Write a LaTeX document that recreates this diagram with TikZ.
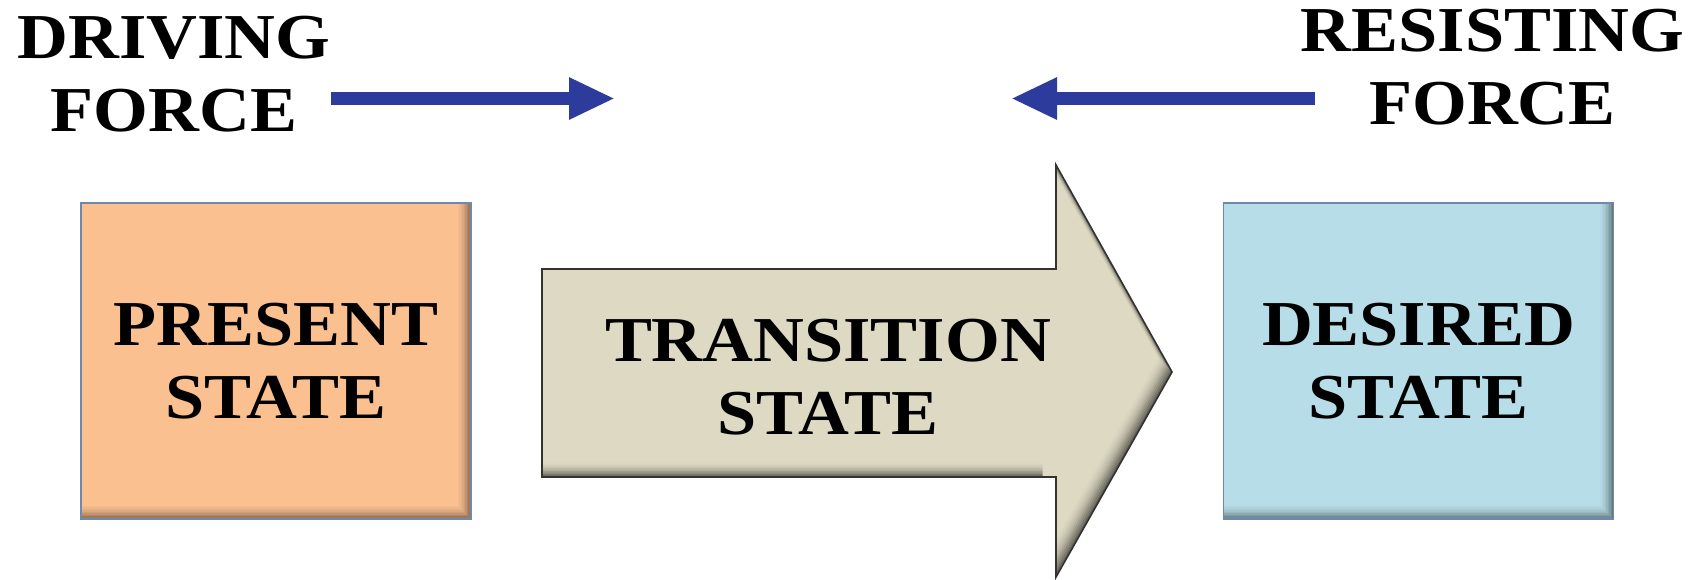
\documentclass[tikz,border=0pt]{standalone}
\usepackage{fontspec}
\setmainfont{Liberation Serif}
\newfontfamily\widefont[FakeStretch=1.1]{Liberation Serif}
\usetikzlibrary{arrows.meta, positioning}

\definecolor{forceblue}{HTML}{2C3B9C}
\definecolor{presentfill}{HTML}{FAC090}
\definecolor{desiredfill}{HTML}{B7DDE8}
\definecolor{transfill}{HTML}{DDD9C3}
\definecolor{boxline}{HTML}{6F89AD}

\begin{document}
\begin{tikzpicture}[x=0.5pt, y=-0.5pt,
    font=\widefont\bfseries\fontsize{32pt}{36.5pt}\selectfont,
    force/.style = {line width=6.5pt, draw=forceblue,
      -{Triangle[length=23pt, width=19.5pt]}},
    forcelabel/.style = {align=center, inner sep=0pt},
    statebox/.style = {draw=boxline, line width=0.8pt, inner sep=0pt,
      minimum width=195pt, minimum height=158pt, align=center,
      path picture={
        \foreach \d/\m in {0/55, 0.75/63, 1.5/70, 2.25/77, 3/83, 3.75/88,
                           4.5/92, 5.25/95, 6/98, 6.75/100}
          \fill[#1!\m!black]
            ([shift={(-\d pt,\d pt)}]path picture bounding box.south west)
            rectangle ([shift={(-\d pt,\d pt)}]path picture bounding box.north east);
      }}]
  \fill[white] (0,0) rectangle (1695,579);

  % force labels and arrows
  \node[forcelabel] (driving) at (174,74.5) {DRIVING\\FORCE};
  \node[forcelabel] (resisting) at (1492.5,67) {RESISTING\\FORCE};
  \coordinate (drivetip) at (615,98.5);
  \coordinate (resisttip) at (1011,98.5);
  \draw[force] (driving.east |- drivetip) -- (drivetip);
  \draw[force] ([xshift=7.5pt]resisting.west |- resisttip) -- (resisttip);

  % transition arrow
  \def\transpath{(542,269) -- (1056,269) -- (1056,165) -- (1172,372)
    -- (1056,577) -- (1056,477) -- (542,477) -- cycle}
  \begin{scope}
    \clip \transpath;
    \foreach \d/\m in {0/45, 1.5/55, 3/64, 4.5/72, 6/80, 7.5/86,
                       9/91, 10.5/95, 12/98, 13.5/100}
      \fill[transfill!\m!black, shift={(-\d,-\d)}] \transpath;
  \end{scope}
  \draw[line width=0.8pt, draw=black!80] \transpath;
  \node[align=center, inner sep=0pt] (transition) at (828,377.5)
    {TRANSITION\\STATE};

  % state boxes
  \node[statebox=presentfill] (present) at (276,361) {PRESENT\\STATE};
  \node[statebox=desiredfill] (desired) at (1418.5,361) {DESIRED\\STATE};
\end{tikzpicture}
\end{document}
